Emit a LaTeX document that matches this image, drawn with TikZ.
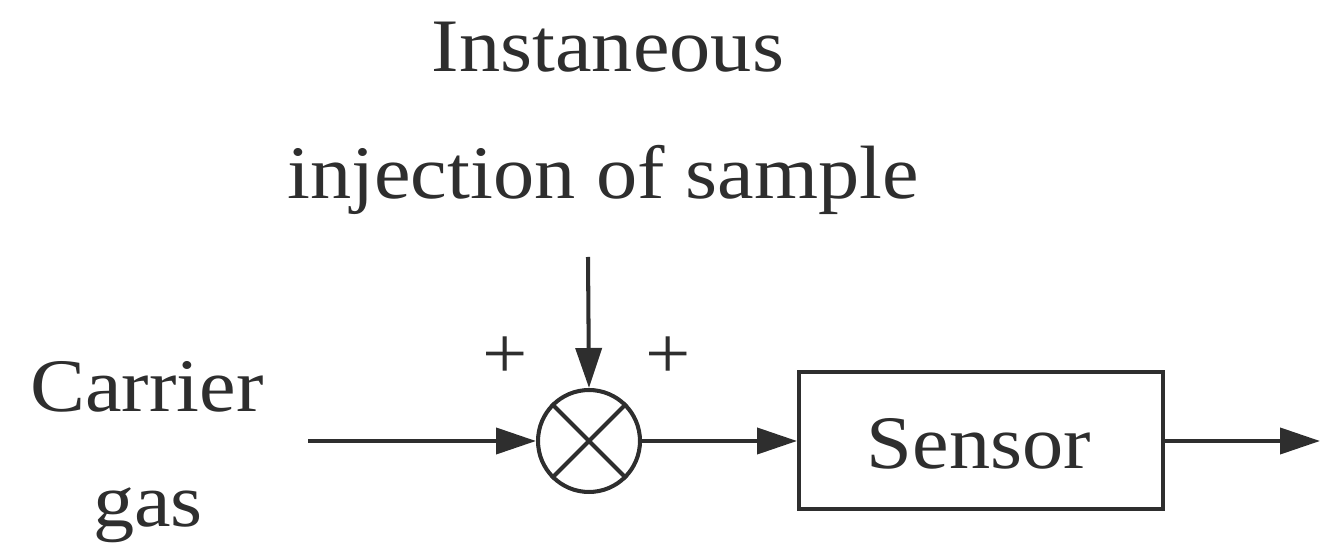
\documentclass[tikz,border=0pt]{standalone}
\usepackage{fontspec}
\setmainfont{Liberation Serif}[FakeStretch=1.09]
\usetikzlibrary{arrows.meta}
\definecolor{ink}{HTML}{2E2E2E}
\begin{document}
\begin{tikzpicture}[x=0.02cm,y=-0.02cm,
  line/.style={draw=ink,line width=2.3pt},
  arr/.style={line,-{Triangle[length=0.8cm,width=0.52cm]}},
  lbl/.style={text=ink,font=\fontsize{43}{52}\selectfont,inner sep=0pt,anchor=base},
  pl/.style={text=ink,font=\fontsize{42}{50}\selectfont,inner sep=0pt},
  sumnode/.style={circle,draw=ink,line width=2.3pt,minimum size=2.04cm,inner sep=0pt},
  block/.style={draw=ink,line width=2.3pt,minimum width=7.28cm,minimum height=2.74cm,inner sep=0pt}]
\useasboundingbox (0,0) rectangle (1321,546);
\node[lbl] (t1) at (608,72) {Instaneous};
\node[lbl] (t2) at (603,199) {injection of sample};
\coordinate (top) at (588,257);
\node[sumnode] (s) at (589,441) {};
\draw[line] (s.45) -- (s.225);
\draw[line] (s.135) -- (s.315);
\node[pl] (p1) at (505,358) {+};
\node[pl] (p2) at (668,358) {+};
\node[lbl] (c1) at (147,412) {Carrier};
\node[lbl] (c2) at (148,527) {gas};
\coordinate (in) at (308,441);
\node[block] (b) at (981,440.5) {};
\node[lbl] (st) at (979,469) {Sensor};
\coordinate (out) at (1320,441);
\draw[arr] (top) -- (s.north);
\draw[arr] (in) -- (s.west);
\draw[arr] (s.east) -- (b.west |- s.east);
\draw[arr] (b.east |- s.east) -- (out);
\end{tikzpicture}
\end{document}
